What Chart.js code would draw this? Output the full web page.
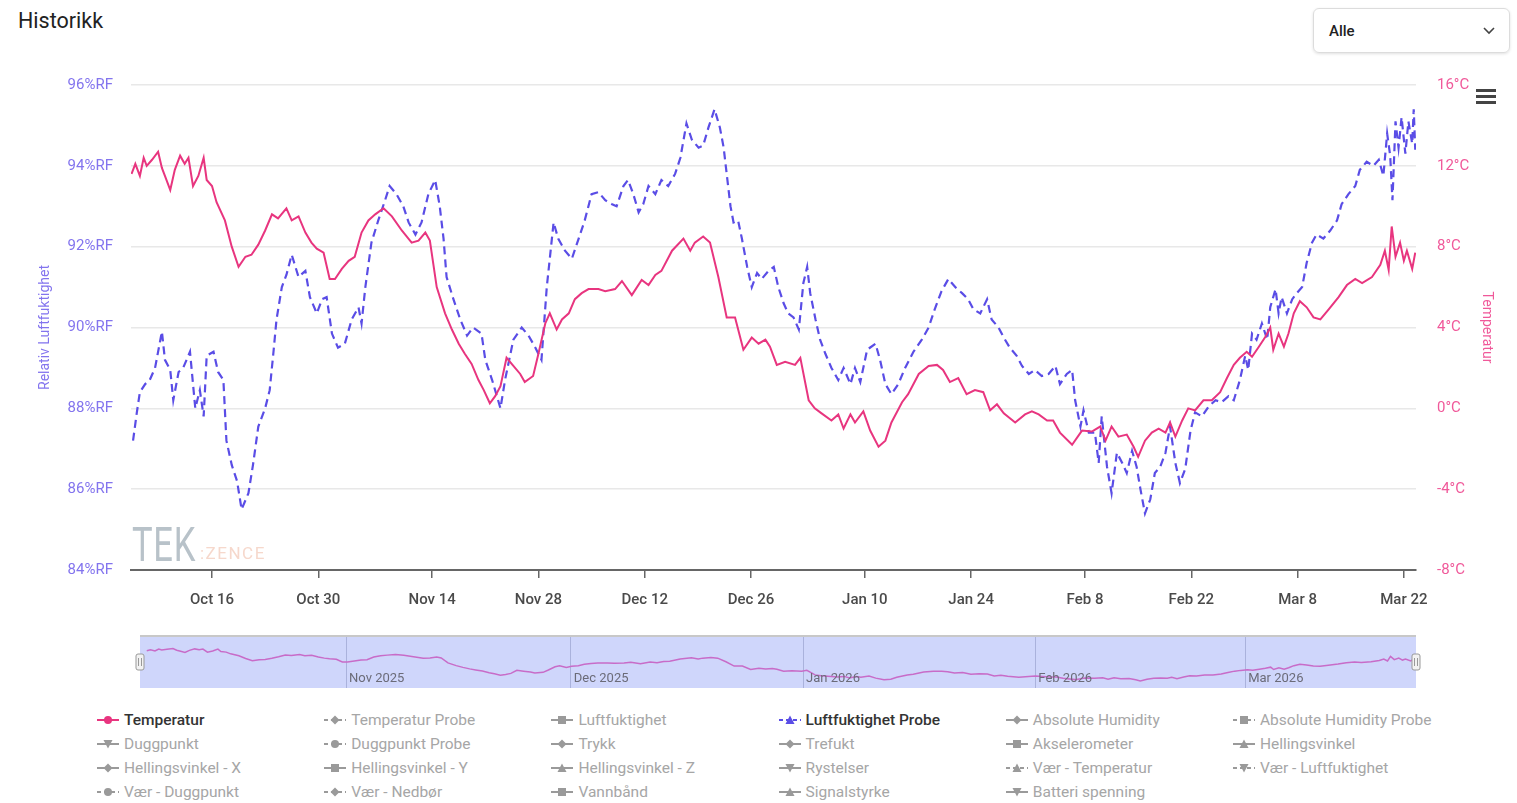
<!DOCTYPE html>
<html lang="no">
<head>
<meta charset="utf-8">
<title>Historikk</title>
<script src="https://cdn.jsdelivr.net/npm/chart.js@4.4.1/dist/chart.umd.min.js"></script>
<style>
  body { margin: 0; background: #fff; font-family: Roboto, "Noto Sans", sans-serif; }
  #page { position: relative; width: 1517px; height: 803px; overflow: hidden; }
  h1 { position: absolute; left: 18px; top: 8px; margin: 0; font-size: 21.5px; font-weight: 400; color: #222; }
  #select { position: absolute; left: 1313px; top: 8px; width: 197px; height: 45px; border: 1px solid #dcdcdc;
            border-radius: 6px; box-shadow: 0 1px 3px rgba(0,0,0,0.12); box-sizing: border-box; }
  #select span { position: absolute; left: 15px; top: 13px; font-size: 15px; font-weight: 500; color: #222; }
  #select svg { position: absolute; right: 14px; top: 18px; }
  #menu { position: absolute; left: 1476px; top: 89px; width: 20px; }
  #menu div { height: 3px; background: #444; margin-bottom: 3px; }
  #main { position: absolute; left: 0; top: 0; }
  #nav { position: absolute; left: 0; top: 630px; }
  #mark { position: absolute; left: 132px; top: 516px; pointer-events: none; }
  #mark .tek { position: absolute; left: 0; top: 0; font-size: 48px; color: #b8c2c9; transform: scaleX(0.72); transform-origin: left top; letter-spacing: 1px; }
  #mark .zence { position: absolute; left: 68px; top: 27px; font-size: 17px; color: #f6d8cc; letter-spacing: 1.5px; }
  .leg { position: absolute; height: 20px; line-height: 20px; font-size: 15.5px; color: #a6a6a6; white-space: nowrap; display: flex; align-items: center; }
  .leg svg { margin-right: 5px; }
  .leg.on { color: #333; font-weight: 500; }
</style>
</head>
<body>
<div id="page">
  <h1>Historikk</h1>
  <div id="select"><span>Alle</span>
    <svg width="12" height="8" viewBox="0 0 12 8"><polyline points="1,1 6,6 11,1" fill="none" stroke="#444" stroke-width="1.6"/></svg>
  </div>
  <canvas id="main" width="1517" height="620"></canvas>
  <div id="mark"><div class="tek">TEK</div><div class="zence">:ZENCE</div></div>
  <div id="menu"><div></div><div></div><div></div></div>
  <canvas id="nav" width="1517" height="62"></canvas>
  <div id="legend"></div>
</div>
<script>
// days counted from 1 Oct 2025
const tempDays = [4.4,4.9,5.5,6.0,6.4,7.1,7.9,8.4,8.8,9.5,
  10.1,10.8,11.4,11.9,12.5,13.2,13.9,14.3,15.0,15.6,
  16.7,17.6,18.5,19.4,20.2,21.1,22.0,22.9,23.7,24.8,
  25.5,26.4,27.3,28.1,28.8,29.7,30.5,31.2,32.1,33.0,
  33.8,34.7,35.6,36.5,37.6,38.7,40.0,41.3,42.2,43.1,
  43.7,44.6,45.7,46.6,47.5,48.3,49.2,50.1,50.8,51.6,
  52.3,53.0,53.8,54.7,55.6,56.2,57.3,58.0,58.9,59.5,
  60.4,61.1,62.0,62.8,63.7,64.6,65.9,66.8,68.1,69.0,
  70.3,71.6,72.5,73.4,74.2,75.6,77.1,78.0,78.6,79.7,
  80.6,81.7,82.8,83.9,85.0,86.1,87.0,87.9,88.5,89.4,
  90.5,91.8,92.5,93.6,94.4,95.3,96.6,97.5,98.2,99.1,
  99.7,100.8,101.7,102.8,103.7,104.5,105.9,106.7,108.1,109.4,
  110.5,111.3,112.2,113.3,114.4,115.5,116.6,117.5,118.4,119.3,
  120.8,122.1,123.0,123.9,125.0,125.8,126.7,128.3,129.6,130.9,
  132.0,132.7,133.5,134.4,135.5,136.4,137.0,137.9,138.8,139.7,
  140.6,141.2,141.9,142.8,143.6,144.5,145.6,146.7,147.8,148.7,
  149.6,150.4,151.3,152.0,152.9,153.7,154.4,154.8,155.5,156.2,
  156.8,157.5,158.3,159.2,160.1,161.0,162.1,163.4,164.5,165.6,
  166.5,167.8,168.9,169.5,170.0,170.4,170.9,171.5,172.0,172.4,
  173.1,173.5];
const tempValues = [11.6,12.1,11.5,12.4,12.0,12.3,12.7,11.9,11.5,10.8,
  11.8,12.5,12.1,12.4,11.0,11.5,12.4,11.3,11.0,10.2,
  9.3,8.0,7.0,7.5,7.6,8.1,8.8,9.6,9.4,9.9,
  9.3,9.5,8.7,8.2,7.9,7.7,6.4,6.4,6.9,7.3,
  7.5,8.7,9.3,9.6,9.9,9.5,8.8,8.2,8.3,8.7,
  8.3,6.0,4.7,3.9,3.2,2.7,2.2,1.4,0.9,0.25,
  0.6,1.1,2.5,2.1,1.7,1.3,1.6,2.7,4.2,4.7,
  3.9,4.4,4.7,5.4,5.7,5.9,5.9,5.8,5.9,6.3,
  5.6,6.35,6.1,6.6,6.8,7.8,8.4,7.8,8.2,8.5,
  8.2,6.5,4.5,4.5,2.9,3.5,3.2,3.4,3.05,2.15,
  2.3,2.15,2.5,0.4,0.0,-0.25,-0.6,-0.3,-1.0,-0.3,
  -0.7,-0.15,-1.1,-1.9,-1.6,-0.7,0.3,0.7,1.7,2.1,
  2.15,1.9,1.3,1.5,0.7,0.9,0.8,-0.1,0.2,-0.25,
  -0.7,-0.3,-0.15,-0.3,-0.6,-0.6,-1.2,-1.8,-1.1,-1.15,
  -0.9,-1.6,-0.9,-1.4,-1.3,-1.9,-2.4,-1.6,-1.2,-1.0,
  -1.2,-0.7,-1.4,-0.6,0.0,-0.1,0.4,0.4,0.8,1.5,
  2.15,2.5,2.8,2.55,3.05,3.5,4.0,2.9,3.7,3.05,
  3.7,4.7,5.3,5.0,4.5,4.4,4.9,5.5,6.1,6.4,
  6.2,6.5,7.1,7.8,6.85,9.0,7.5,8.2,7.3,7.8,
  6.9,7.7];

const rhDays = [4.6,5.1,5.5,6.2,6.8,7.5,8.4,8.8,9.5,9.9,
  10.6,11.2,12.1,12.8,13.4,13.9,14.3,15.2,15.8,16.5,
  16.9,17.6,18.3,18.9,19.8,20.4,21.1,22.0,22.6,23.1,
  23.5,24.2,24.8,25.5,26.4,27.3,27.9,28.8,29.5,30.1,
  30.8,31.6,32.5,33.4,34.3,34.7,35.2,36.0,36.9,37.8,
  38.4,39.3,40.2,40.9,41.8,42.6,43.5,44.4,45.0,45.5,
  45.9,46.8,47.7,48.6,49.4,50.5,51.0,51.9,53.0,53.6,
  54.7,55.8,56.7,57.6,58.4,59.1,60.0,60.6,61.5,62.4,
  63.3,64.1,65.0,65.9,66.8,67.7,68.3,69.2,69.8,70.5,
  71.2,71.8,72.5,73.4,74.2,75.1,76.0,76.7,77.5,78.2,
  79.1,79.7,80.4,81.2,81.9,82.4,82.8,83.3,83.7,84.3,
  84.8,85.5,86.1,86.8,87.4,88.3,89.0,89.6,90.3,90.9,
  91.6,92.3,92.9,93.4,93.8,94.5,95.1,95.8,96.6,97.5,
  98.2,99.1,99.7,100.4,101.3,102.4,103.0,103.7,104.5,105.4,
  106.3,107.4,108.5,109.4,110.2,111.1,112.0,112.9,113.8,114.6,
  115.3,116.2,117.1,117.7,118.6,119.3,120.1,121.0,121.7,122.6,
  123.4,124.3,125.2,126.1,126.7,127.6,128.3,128.7,129.4,129.8,
  130.5,131.3,131.8,132.2,132.9,133.5,134.2,134.9,135.5,136.2,
  136.8,137.3,137.9,138.6,139.2,139.9,140.6,141.2,141.9,142.5,
  143.2,143.9,144.5,145.4,146.3,147.2,148.0,148.9,149.6,150.4,
  151.1,151.5,152.0,152.6,153.3,154.0,154.4,155.1,155.5,155.9,
  156.6,157.3,157.9,158.6,159.2,159.9,160.5,161.4,162.3,163.2,
  163.8,164.7,165.6,166.2,167.1,168.0,168.7,169.3,169.8,170.2,
  170.5,170.9,171.3,171.7,172.2,172.6,173.1,173.3,173.5];
const rhValues = [87.2,87.9,88.4,88.6,88.7,89.0,89.9,89.2,88.95,88.2,
  88.9,89.0,89.4,88.0,88.45,87.8,89.3,89.4,88.9,88.7,
  87.2,86.6,86.2,85.5,85.9,86.6,87.55,88.0,88.45,89.4,
  90.2,91.0,91.3,91.8,91.25,91.4,90.75,90.35,90.7,90.75,
  89.85,89.5,89.6,90.2,90.5,90.1,91.0,92.1,92.65,93.15,
  93.5,93.3,93.0,92.6,92.3,92.6,93.3,93.65,93.0,92.2,
  91.25,90.7,90.2,89.8,90.0,89.85,89.2,88.7,88.0,88.7,
  89.7,90.0,89.8,89.5,89.2,91.0,92.6,92.2,91.9,91.7,
  92.2,92.65,93.3,93.35,93.15,93.05,93.0,93.5,93.65,93.3,
  92.85,93.05,93.5,93.3,93.65,93.5,93.8,94.2,95.05,94.65,
  94.45,94.5,94.95,95.4,94.95,94.45,93.8,93.0,92.6,92.65,
  92.2,91.5,91.0,91.35,91.2,91.4,91.5,91.0,90.6,90.35,
  90.25,89.95,91.1,91.5,90.85,90.2,89.7,89.35,89.0,88.7,
  89.0,88.6,89.0,88.65,89.45,89.6,89.2,88.6,88.35,88.6,
  89.0,89.4,89.7,90.0,90.45,90.9,91.2,91.0,90.85,90.7,
  90.45,90.35,90.7,90.2,90.0,89.75,89.5,89.3,89.05,88.85,
  88.95,88.8,88.85,89.05,88.6,88.85,88.95,88.2,87.55,87.95,
  87.4,87.4,86.65,87.8,86.55,85.9,86.9,86.65,86.4,86.95,
  86.55,86.0,85.4,85.75,86.4,86.55,86.9,87.55,86.65,86.15,
  86.5,87.45,87.9,87.8,88.05,88.2,88.15,88.3,88.2,88.7,
  89.3,88.95,89.85,89.7,90.1,89.7,90.5,90.95,90.35,90.75,
  90.35,90.7,90.85,91.0,91.6,92.1,92.3,92.2,92.4,92.65,
  93.05,93.3,93.5,93.9,94.1,94.0,94.15,93.75,94.8,94.25,
  93.15,95.1,94.45,95.2,94.3,95.1,94.55,95.4,94.4];

const xTickDays = [15, 29, 44, 58, 72, 86, 101, 115, 130, 144, 158, 172];
const xTickLabels = ['Oct 16', 'Oct 30', 'Nov 14', 'Nov 28', 'Dec 12', 'Dec 26',
  'Jan 10', 'Jan 24', 'Feb 8', 'Feb 22', 'Mar 8', 'Mar 22'];
const navMonthDays = [31, 61, 92, 123, 151];
const navMonthLabels = ['Nov 2025', 'Dec 2025', 'Jan 2026', 'Feb 2026', 'Mar 2026'];

const legendNames = ['Temperatur', 'Temperatur Probe', 'Luftfuktighet', 'Luftfuktighet Probe', 'Absolute Humidity', 'Absolute Humidity Probe',
  'Duggpunkt', 'Duggpunkt Probe', 'Trykk', 'Trefukt', 'Akselerometer', 'Hellingsvinkel',
  'Hellingsvinkel - X', 'Hellingsvinkel - Y', 'Hellingsvinkel - Z', 'Rystelser', 'Vær - Temperatur', 'Vær - Luftfuktighet',
  'Vær - Duggpunkt', 'Vær - Nedbør', 'Vannbånd', 'Signalstyrke', 'Batteri spenning'];
const legendSymbols = ['circle', 'diamond', 'square', 'triangle', 'diamond', 'square',
  'triangle-down', 'circle', 'diamond', 'diamond', 'square', 'triangle',
  'diamond', 'square', 'triangle', 'triangle-down', 'triangle', 'triangle-down',
  'circle', 'diamond', 'square', 'triangle', 'triangle-down'];

const tempColor = '#e8357f';
const rhColor = '#5a4de6';

Chart.defaults.font.family = 'Roboto, "Noto Sans", sans-serif';

const mainChart = new Chart(document.getElementById('main'), {
  type: 'line',
  data: {
    datasets: [{
      label: 'Temperatur',
      data: tempDays.map((d, i) => ({ x: d, y: tempValues[i] })),
      yAxisID: 'y1',
      borderColor: tempColor,
      borderWidth: 2,
      pointRadius: 0
    }, {
      label: 'Luftfuktighet Probe',
      data: rhDays.map((d, i) => ({ x: d, y: rhValues[i] })),
      yAxisID: 'y',
      borderColor: rhColor,
      borderWidth: 2.2,
      borderDash: [8, 5],
      pointRadius: 0
    }]
  },
  options: {
    responsive: false,
    animation: false,
    layout: { padding: { top: 85, left: 0, right: 0, bottom: 0 } },
    plugins: { legend: { display: false }, tooltip: { enabled: false } },
    scales: {
      x: {
        type: 'linear',
        min: 4.33,
        max: 173.6,
        afterBuildTicks: axis => { axis.ticks = xTickDays.map(v => ({ value: v })); },
        afterFit: s => { s.height = 50; },
        ticks: {
          callback: v => xTickLabels[xTickDays.indexOf(v)],
          color: '#4a4a4a',
          font: { size: 15, weight: '500' },
          padding: 13,
          maxRotation: 0,
          autoSkip: false
        },
        grid: { drawOnChartArea: false, drawTicks: true, tickLength: 8, color: '#666', lineWidth: 1.5 },
        border: { display: true, color: '#666', width: 2 }
      },
      y: {
        position: 'left',
        min: 84,
        max: 96,
        afterFit: s => { s.width = 131; },
        ticks: { stepSize: 2, callback: v => v + '%RF', color: '#8374ee', font: { size: 15 }, padding: 18 },
        grid: { color: '#e8e8e8', lineWidth: 1.5, drawTicks: false },
        border: { display: false },
        title: { display: true, text: 'Relativ Luftfuktighet', color: '#8374ee', font: { size: 14 }, padding: { top: 37, bottom: 0 } }
      },
      y1: {
        position: 'right',
        min: -8,
        max: 16,
        afterFit: s => { s.width = 101; },
        ticks: { stepSize: 4, callback: v => v + '°C', color: '#f0599a', font: { size: 15 }, padding: 21 },
        grid: { drawOnChartArea: false, drawTicks: false },
        border: { display: false },
        title: { display: true, text: 'Temperatur', color: '#f0599a', font: { size: 14 }, padding: { top: 22, bottom: 0 } }
      }
    }
  }
});

// navigator below the main chart
const navPlugin = {
  id: 'navDecor',
  beforeDraw(chart) {
    const { ctx, chartArea: a } = chart;
    ctx.save();
    ctx.fillStyle = '#cfd6fb';
    ctx.fillRect(a.left, a.top, a.right - a.left, a.bottom - a.top);
    ctx.restore();
  },
  afterDraw(chart) {
    const { ctx, chartArea: a } = chart;
    const xs = chart.scales.x;
    ctx.save();
    ctx.strokeStyle = '#c8c8c8';
    ctx.lineWidth = 2;
    ctx.beginPath();
    ctx.moveTo(a.left, a.top);
    ctx.lineTo(a.right, a.top);
    ctx.stroke();
    ctx.fillStyle = '#6b6b78';
    ctx.font = '13px Roboto, sans-serif';
    ctx.textBaseline = 'middle';
    navMonthDays.forEach((d, i) => {
      ctx.fillText(navMonthLabels[i], xs.getPixelForValue(d) + 3, a.bottom - 9);
    });
    [a.left, a.right].forEach(hx => {
      const cy = (a.top + a.bottom) / 2;
      ctx.fillStyle = '#f2f2f2';
      ctx.strokeStyle = '#999';
      ctx.lineWidth = 1;
      ctx.beginPath();
      ctx.roundRect(hx - 4, cy - 8, 8, 16, 2);
      ctx.fill();
      ctx.stroke();
      ctx.beginPath();
      ctx.moveTo(hx - 1.5, cy - 4); ctx.lineTo(hx - 1.5, cy + 4);
      ctx.moveTo(hx + 1.5, cy - 4); ctx.lineTo(hx + 1.5, cy + 4);
      ctx.stroke();
    });
    ctx.restore();
  }
};

const navChart = new Chart(document.getElementById('nav'), {
  type: 'line',
  data: {
    datasets: [{
      data: tempDays.map((d, i) => ({ x: d, y: tempValues[i] })),
      borderColor: '#c86cc8',
      borderWidth: 1.5,
      pointRadius: 0
    }]
  },
  options: {
    responsive: false,
    animation: false,
    layout: { padding: { left: 140, right: 101, top: 6, bottom: 4 } },
    plugins: { legend: { display: false }, tooltip: { enabled: false } },
    scales: {
      x: {
        type: 'linear',
        min: 3.5,
        max: 173.8,
        afterBuildTicks: axis => { axis.ticks = navMonthDays.map(v => ({ value: v })); },
        afterFit: s => { s.height = 0; },
        ticks: { display: false },
        grid: { color: '#aab2dc', drawTicks: false, lineWidth: 1 },
        border: { display: false }
      },
      y: { display: false, min: -5.7, max: 18.5 }
    }
  },
  plugins: [navPlugin]
});

// legend, 6 columns
function symbolSvg(sym, color, dashed) {
  let shape;
  if (sym === 'circle') shape = `<circle cx="11" cy="6" r="4" fill="${color}"/>`;
  else if (sym === 'diamond') shape = `<polygon points="11,1.5 15.5,6 11,10.5 6.5,6" fill="${color}"/>`;
  else if (sym === 'square') shape = `<rect x="7" y="2" width="8" height="8" fill="${color}"/>`;
  else if (sym === 'triangle') shape = `<polygon points="11,1.5 15.5,10 6.5,10" fill="${color}"/>`;
  else shape = `<polygon points="6.5,2 15.5,2 11,10.5" fill="${color}"/>`;
  const dash = dashed ? 'stroke-dasharray="4,3"' : '';
  return `<svg width="22" height="12" viewBox="0 0 22 12"><line x1="0" y1="6" x2="22" y2="6" stroke="${color}" stroke-width="2" ${dash}/>${shape}</svg>`;
}

const legendEl = document.getElementById('legend');
const activeSeries = mainChart.data.datasets.map(ds => ds.label);
legendNames.forEach((name, i) => {
  const col = i % 6, row = Math.floor(i / 6);
  const on = activeSeries.includes(name);
  const color = name === 'Temperatur' ? tempColor : (name === 'Luftfuktighet Probe' ? rhColor : '#9a9a9a');
  const dashed = name.includes('Probe') || name.startsWith('Vær');
  const item = document.createElement('div');
  item.className = 'leg' + (on ? ' on' : '');
  item.style.left = (97 + col * 227.2) + 'px';
  item.style.top = (710 + row * 24) + 'px';
  item.innerHTML = symbolSvg(legendSymbols[i], color, dashed) + '<span>' + name + '</span>';
  legendEl.appendChild(item);
});
</script>
</body>
</html>
